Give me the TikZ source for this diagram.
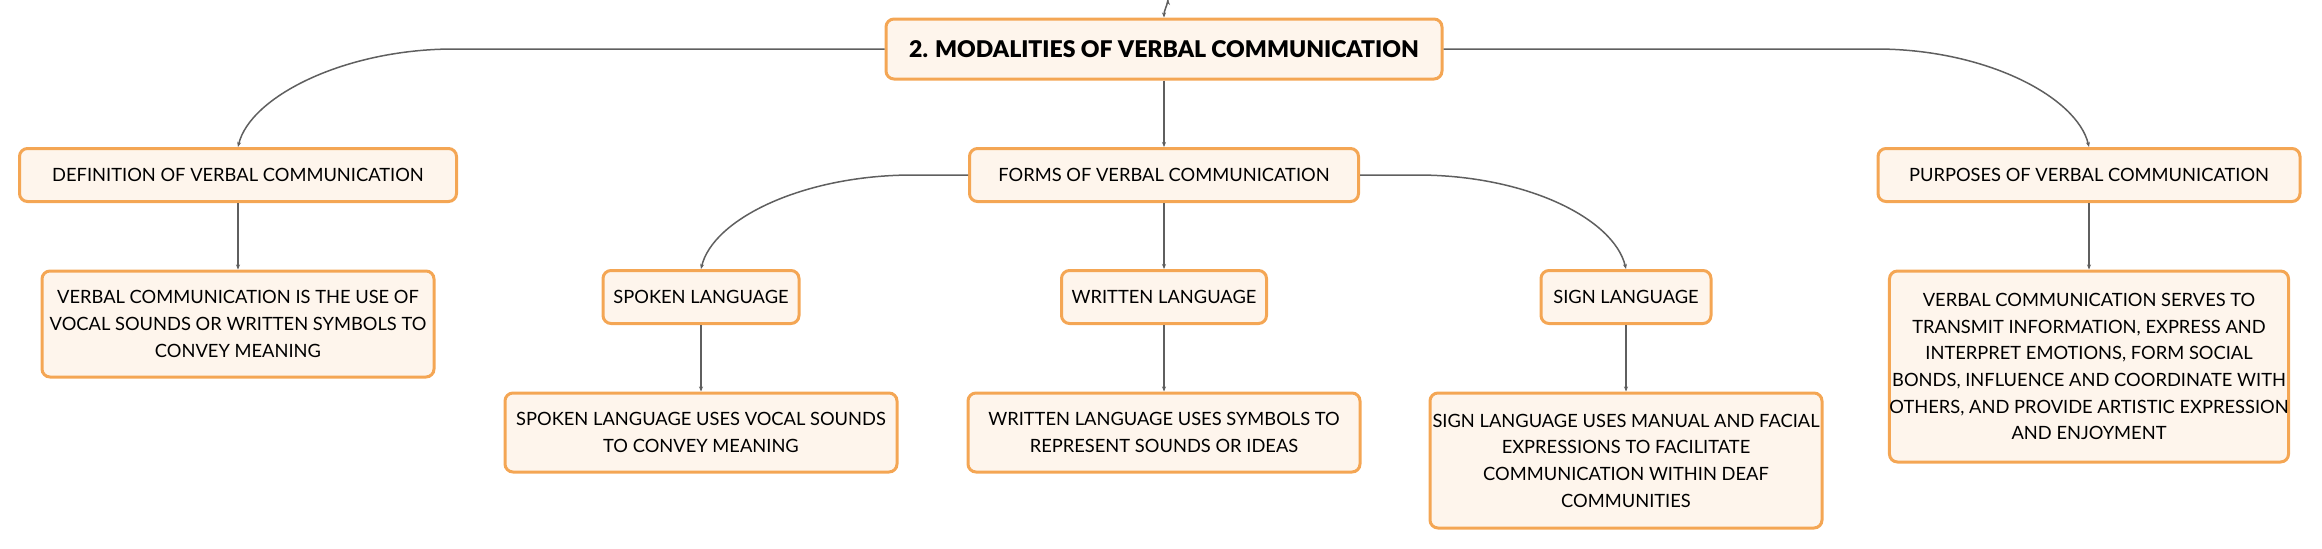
\documentclass[tikz,border=0pt]{standalone}
\usepackage{fontspec}
\setmainfont{Lato}[BoldFont={Lato Black}]
\usetikzlibrary{arrows.meta}
\definecolor{boxline}{HTML}{F4A654}
\definecolor{boxfill}{HTML}{FEF5EC}
\definecolor{wire}{HTML}{5F5F5F}
\tikzset{
  topic/.style={draw=boxline,fill=boxfill,line width=3pt,rounded corners=8pt,
    align=center,minimum height=53pt,inner sep=0pt,
    font=\fontsize{18.3}{26.7}\selectfont},
  note/.style={topic,minimum width=392pt},
  wire/.style={draw=wire,line width=1.5pt,-{Stealth[length=5pt,width=4pt]}}
}
\begin{document}
\begin{tikzpicture}[x=1pt,y=-1pt]
    \useasboundingbox (0,0) rectangle (2322,549);
    \node[topic,minimum width=556pt,minimum height=60pt,font=\bfseries\fontsize{23}{28}\selectfont]
      (n_main) at (1164,49) {2. MODALITIES OF VERBAL COMMUNICATION};
    \node[topic,minimum width=437pt] (n_def)   at (238,175) {DEFINITION OF VERBAL COMMUNICATION};
    \node[topic,minimum width=389pt] (n_forms) at (1164,175)  {FORMS OF VERBAL COMMUNICATION};
    \node[topic,minimum width=422pt] (n_purp)  at (2089,175)  {PURPOSES OF VERBAL COMMUNICATION};
    \node[topic,minimum width=196pt] (n_spoken)  at (701,297)  {SPOKEN LANGUAGE};
    \node[topic,minimum width=205pt] (n_written) at (1164,297) {WRITTEN LANGUAGE};
    \node[topic,minimum width=170pt] (n_sign)    at (1626,297) {SIGN LANGUAGE};
    \node[note,minimum height=106pt] (t_def) at (238,324)
      {VERBAL COMMUNICATION IS THE USE OF\\VOCAL SOUNDS OR WRITTEN SYMBOLS TO\\CONVEY MEANING};
    \node[note,minimum height=79pt] (t_spoken) at (701,432.5)
      {SPOKEN LANGUAGE USES VOCAL SOUNDS\\TO CONVEY MEANING};
    \node[note,minimum height=79pt] (t_written) at (1164,432.5)
      {WRITTEN LANGUAGE USES SYMBOLS TO\\REPRESENT SOUNDS OR IDEAS};
    \node[note,minimum height=135pt] (t_sign) at (1626,460.5)
      {SIGN LANGUAGE USES MANUAL AND FACIAL\\EXPRESSIONS TO FACILITATE\\COMMUNICATION WITHIN DEAF\\COMMUNITIES};
    \node[note,minimum height=191pt] (t_purp) at (2089,366.5)
      {VERBAL COMMUNICATION SERVES TO\\TRANSMIT INFORMATION, EXPRESS AND\\INTERPRET EMOTIONS, FORM SOCIAL\\BONDS, INFLUENCE AND COORDINATE WITH\\OTHERS, AND PROVIDE ARTISTIC EXPRESSION\\AND ENJOYMENT};
    \coordinate (c_top) at (1168,0);
    \coordinate (c_left) at (454,49);
    \coordinate (c_right) at (1876,49);
    \coordinate (c_fleft) at (913,175);
    \coordinate (c_fright) at (1417,175);
    \path[wire]
    (c_top) edge [out=-100,in=90] (n_main.north)
    (n_main) edge (n_forms)
    (n_forms) edge (n_written)
    (n_def) edge (t_def)
    (n_spoken) edge (t_spoken)
    (n_written) edge (t_written)
    (n_sign) edge (t_sign)
    (n_purp) edge (t_purp)
    ; %end path
    \draw[wire] (n_main.west) -- (c_left) .. controls +(-110,0) and +(12,-50) .. (n_def.north);
    \draw[wire] (n_main.east) -- (c_right) .. controls +(110,0) and +(-12,-50) .. (n_purp.north);
    \draw[wire] (n_forms.west) -- (c_fleft) .. controls +(-110,0) and +(12,-50) .. (n_spoken.north);
    \draw[wire] (n_forms.east) -- (c_fright) .. controls +(110,0) and +(-12,-50) .. (n_sign.north);
\end{tikzpicture}
\end{document}
